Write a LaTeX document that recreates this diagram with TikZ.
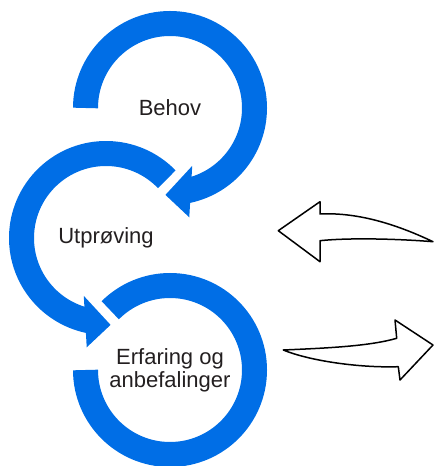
\documentclass[tikz,border=0pt]{standalone}
\usepackage{fontspec}
\setmainfont{Liberation Sans}
\usetikzlibrary{calc}
\definecolor{ringblue}{RGB}{0,110,230}
\definecolor{textdark}{RGB}{35,31,32}

\begin{document}
\begin{tikzpicture}[x=1pt, y=1pt,
    ring/.style={draw=ringblue, line width=25pt},
    ringhead/.style={fill=ringblue},
    ringtext/.style={text=textdark, font=\fontsize{22}{23}\selectfont, align=center},
    bentarrow/.style={draw=black, fill=white, line width=1.5pt, line join=round}]
    \useasboundingbox (0,0) rectangle (434,466);
    \node[ringtext] (behov) at (170,358) {Behov};
    \node[ringtext] (utproving) at (106,228) {Utprøving};
    \node[ringtext] (erfaring) at (170,96) {Erfaring og\\anbefalinger};
    % blue rings
    \draw[ring] ($(behov.center)+(180:84.5)$) arc[start angle=180, end angle=-79, radius=84.5];
    \fill[ringhead] ($(behov.center)+(-69:62)$) -- ($(behov.center)+(-80:111)$) -- ($(behov.center)+(-93:87)$) -- cycle;
    \draw[ring] ($(utproving.center)+(44:84.5)$) arc[start angle=44, end angle=259, radius=84.5];
    \fill[ringhead] ($(utproving.center)+(-111:62)$) -- ($(utproving.center)+(-100:111)$) -- ($(utproving.center)+(-87:87)$) -- cycle;
    \draw[ring] ($(erfaring.center)+(180:84.5)$) arc[start angle=180, end angle=495, radius=84.5];
    % white arrows
    \draw[bentarrow] (278.3,235.3) -- (320,264.3) -- (320,252)
        .. controls (360,254) and (400,240) .. (433,224.3)
        .. controls (400,227) and (350,228.5) .. (320,225.3)
        -- (320,204.3) -- cycle;
    \draw[bentarrow] (283.3,116) .. controls (330,118) and (370,120) .. (396.7,127.7)
        -- (395,146) -- (433,121) -- (400,86) -- (398.3,99.3)
        .. controls (360,98) and (310,105) .. cycle;
\end{tikzpicture}
\end{document}
